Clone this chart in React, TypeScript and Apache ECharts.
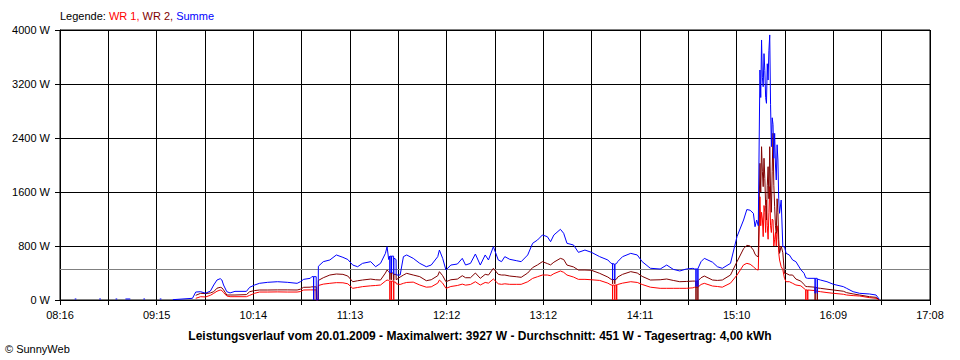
import React, { useEffect, useRef } from "react";
import * as echarts from "echarts";

// ---------- data ----------
// Each row: time, Summe, WR 2, WR 1  (W); null = no value
const times = [
  "08:25", "08:26", "08:30", "08:40", "08:41", "08:45", "08:50", "08:51", "08:53", "08:56",
  "08:59", "09:02", "09:07", "09:08", "09:12", "09:17", "09:18", "09:21",
  "09:25", "09:37", "09:39", "09:42", "09:45", "09:48", "09:50", "09:52", "09:54", "09:55",
  "09:56", "09:58", "10:00", "10:03", "10:10", "10:12", "10:15", "10:18", "10:23", "10:29",
  "10:35", "10:41", "10:43", "10:45", "10:49", "10:50", "10:51", "10:51:05", "10:51:10", "10:52:40",
  "10:52:45", "10:53:50", "10:54", "10:57", "11:01", "11:05", "11:09", "11:12", "11:15", "11:18",
  "11:21", "11:26", "11:29", "11:32", "11:35", "11:36", "11:37", "11:37:40", "11:37:45", "11:37:50",
  "11:38:40", "11:38:45", "11:38:50", "11:40:00", "11:40:05", "11:40:10", "11:41:30", "11:41:35", "11:44", "11:46",
  "11:48", "11:52", "11:56", "12:00", "12:03", "12:07", "12:08", "12:10", "12:12", "12:15",
  "12:19", "12:22", "12:24", "12:27", "12:30", "12:33", "12:36", "12:38", "12:41", "12:44",
  "12:46", "12:48", "12:51", "12:55", "12:58", "13:02", "13:05", "13:08", "13:11", "13:14",
  "13:16", "13:18", "13:22", "13:24", "13:26", "13:30", "13:33", "13:37", "13:41", "13:46",
  "13:51", "13:53", "13:53:50", "13:53:55", "13:54:00", "13:55:10", "13:55:15", "13:55:20", "13:56:20", "13:56:25",
  "13:56:30", "13:57", "14:00", "14:05", "14:09", "14:12", "14:17", "14:23", "14:27", "14:31",
  "14:35", "14:39", "14:43", "14:44", "14:44:50", "14:44:55", "14:45:00", "14:46:00", "14:46:05", "14:46:10",
  "14:48", "14:50", "14:55", "14:58", "15:01", "15:06", "15:10", "15:14", "15:16", "15:18",
  "15:20", "15:21", "15:22", "15:23", "15:24", "15:24:30", "15:25", "15:25:30", "15:26", "15:26:30",
  "15:27", "15:27:30", "15:28", "15:28:30", "15:29", "15:29:30", "15:30", "15:30:30", "15:31", "15:31:30",
  "15:32", "15:32:30", "15:33", "15:33:30", "15:34", "15:34:30", "15:35", "15:35:30", "15:36", "15:37",
  "15:38", "15:39", "15:40", "15:42", "15:44", "15:46", "15:49", "15:51", "15:52", "15:52:05",
  "15:52:10", "15:53:10", "15:53:15", "15:53:20", "15:57:40", "15:57:45", "15:57:50", "15:59:00", "15:59:05", "15:59:10",
  "16:01", "16:05", "16:09", "16:15", "16:17", "16:21", "16:25", "16:31", "16:35", "16:37",
];

// Summe (W)
const summe = [
  15, 15, null, 15, 15, null, 15, 15, null, 15,
  15, null, 15, 15, null, 15, 15, null,
  5, 25, 118, 123, 100, 133, 222, 296, 316, 296,
  222, 123, 105, 128, 128, 188, 222, 247, 262, 271,
  262, 247, 271, 306, 321, 346, 346, 0, 346, 346,
  0, 0, 500, 568, 593, 667, 632, 600, 518, 493,
  543, 568, 493, 543, 691, 790, 600, 650, 400, 650,
  650, 400, 650, 650, 380, 620, 600, 370, 370, 642,
  667, 617, 543, 493, 518, 642, 740, 617, 444, 518,
  533, 617, 518, 543, 681, 518, 667, 593, 790, 593,
  568, 642, 603, 583, 568, 667, 840, 889, 963, 938,
  864, 963, 1047, 988, 840, 815, 706, 740, 706, 642,
  593, 543, 540, 296, 540, 530, 296, 530, 540, 540,
  540, 568, 642, 691, 667, 568, 470, 459, 518, 454,
  430, 459, 469, 460, 460, 200, 460, 460, 200, 470,
  568, 617, 560, 493, 469, 543, 940, 1185, 1340, 1330,
  1284, 1086, 1185, 1100, 3407, 3000, 3852, 3300, 3160, 3650,
  3400, 3000, 2914, 3500, 3259, 3700, 3927, 2900, 2271, 2700,
  2600, 2100, 2469, 2000, 1778, 2300, 2074, 1500, 1284, 1481,
  790, 790, 691, 667, 593, 568, 450, 395, 330, 330,
  330, 321, 321, 321, 321, 99, 321, 321, 99, 310,
  296, 271, 232, 198, 173, 123, 99, 89, 74, 10,
];

// WR 2 (W)
const wr2 = [
  null, null, null, null, null, null, null, null, null, null,
  null, null, null, null, null, null, null, null,
  null, null, 69, 99, 95, 105, 123, 175, 188, 180,
  150, 74, 74, 74, 80, 123, 140, 148, 148, 150,
  150, 148, 160, 188, 190, 195, 195, 0, 195, 195,
  0, 0, 290, 330, 370, 385, 380, 355, 271, 285,
  296, 310, 300, 296, 400, 444, 420, 400, 300, 400,
  400, 300, 400, 400, 290, 380, 380, 300, 340, 370,
  395, 370, 346, 286, 300, 360, 420, 360, 271, 300,
  310, 360, 330, 330, 400, 321, 380, 370, 469, 380,
  370, 370, 355, 345, 336, 400, 480, 520, 568, 540,
  520, 560, 617, 600, 518, 490, 444, 444, 440, 395,
  340, 306, 306, 240, 306, 300, 240, 300, 310, 310,
  310, 340, 380, 420, 400, 350, 296, 300, 311, 290,
  271, 275, 280, 280, 280, 0, 280, 280, 0, 285,
  330, 355, 296, 290, 296, 370, 568, 760, 810, 800,
  740, 680, 650, 642, 2025, 1600, 2271, 1900, 1679, 2100,
  1800, 1400, 1185, 1700, 1975, 1500, 2271, 1600, 1300, 1900,
  2470, 1700, 1382, 1100, 988, 1500, 1300, 900, 691, 800,
  700, 395, 395, 370, 370, 310, 280, 230, 200, 200,
  200, 198, 198, 198, 190, 0, 190, 180, 0, 178,
  173, 160, 148, 130, 109, 90, 74, 49, 40, 0,
];

// WR 1 (W)
const wr1 = [
  null, null, null, null, null, null, null, null, null, null,
  null, null, null, null, null, null, null, null,
  null, null, 25, 49, 45, 70, 99, 130, 148, 140,
  110, 59, 49, 49, 49, 69, 100, 118, 118, 120,
  118, 118, 125, 148, 150, 150, 150, 0, 150, 150,
  0, 0, 215, 235, 247, 257, 255, 240, 173, 185,
  198, 210, 215, 222, 280, 296, 290, 280, 0, 280,
  280, 0, 280, 280, 0, 270, 260, 240, 230, 247,
  260, 265, 222, 190, 195, 250, 296, 250, 173, 200,
  215, 235, 220, 230, 271, 222, 260, 250, 311, 240,
  232, 240, 232, 232, 232, 270, 320, 345, 370, 370,
  360, 390, 430, 410, 370, 340, 306, 306, 300, 290,
  250, 222, 222, 0, 222, 220, 0, 220, 225, 0,
  225, 230, 250, 271, 260, 230, 190, 173, 173, 173,
  173, 173, 180, 188, 188, 188, 188, 188, 188, 190,
  230, 247, 207, 200, 190, 250, 370, 520, 543, 530,
  493, 470, 450, 444, 1530, 1100, 1300, 1200, 938, 1400,
  1300, 1000, 1481, 1100, 900, 1300, 1679, 1100, 1000, 1200,
  1185, 800, 900, 1000, 800, 1100, 1000, 700, 593, 493,
  450, 321, 271, 271, 247, 222, 210, 170, 150, 0,
  150, 148, 0, 148, 140, 140, 140, 130, 130, 128,
  123, 110, 99, 85, 74, 65, 59, 35, 25, 0,
];

const tickLabels = ["08:16", "09:15", "10:14", "11:13", "12:12", "13:12", "14:11", "15:10", "16:09", "17:08"];
const axisStart = "08:16";
const axisEnd = "17:08";
const gridSteps = 18;
const yMax = 4000;
const yStep = 800;
const average = 451;

const legendPrefix = "Legende: ";
const seriesNames = ["WR 1", "WR 2", "Summe"];
const seriesColors = ["#ff0000", "#800000", "#0000ff"];
const titleText =
  "Leistungsverlauf vom 20.01.2009 - Maximalwert: 3927 W - Durchschnitt: 451 W - Tagesertrag: 4,00 kWh";
const copyrightText = "© SunnyWeb";

// ---------- helpers ----------
const toMin = (t: string) => {
  const [h, m, s] = t.split(":").map(Number);
  return h * 60 + m + (s || 0) / 60;
};
const startMin = toMin(axisStart);
const stepMin = (toMin(axisEnd) - startMin) / gridSteps;
const toX = (t: string) => (toMin(t) - startMin) / stepMin;

const buildData = (values: (number | null)[]) => {
  const firstIdx = values.findIndex((v) => v !== null);
  return times
    .map((t, i) => [toX(t), values[i] === null ? "-" : values[i]] as [number, number | string])
    .slice(firstIdx);
};

const FONT = "'Liberation Sans', Arial, sans-serif";

export default function App() {
  const ref = useRef<HTMLDivElement>(null);

  useEffect(() => {
    if (!ref.current) return;
    const chart = echarts.init(ref.current, null, { renderer: "svg" });
    const valuesList = [wr1, wr2, summe];

    chart.setOption({
      animation: false,
      backgroundColor: "#ffffff",
      grid: {
        left: 60,
        right: 30,
        top: 30,
        bottom: 60,
        show: true,
        borderColor: "#000000",
        borderWidth: 1,
      },
      xAxis: {
        type: "value",
        min: 0,
        max: gridSteps,
        interval: 1,
        axisLine: { show: true, lineStyle: { color: "#000000", width: 1 } },
        axisTick: { show: true, length: 5, lineStyle: { color: "#000000" } },
        splitLine: { show: true, lineStyle: { color: "#000000", width: 1 } },
        axisLabel: {
          color: "#000000",
          fontFamily: FONT,
          fontSize: 11,
          margin: 9,
          formatter: (v: number) => {
            const i = Math.round(v);
            return i % 2 === 0 ? tickLabels[i / 2] ?? "" : "";
          },
        },
      },
      yAxis: {
        type: "value",
        min: 0,
        max: yMax,
        interval: yStep,
        axisLine: { show: true, lineStyle: { color: "#000000", width: 1 } },
        axisTick: { show: true, length: 5, lineStyle: { color: "#000000" } },
        splitLine: { show: true, lineStyle: { color: "#000000", width: 1 } },
        axisLabel: {
          color: "#000000",
          fontFamily: FONT,
          fontSize: 11,
          margin: 10,
          formatter: (v: number) => `${v} W`,
        },
      },
      series: valuesList.map((vals, idx) => ({
        name: seriesNames[idx],
        type: "line",
        data: buildData(vals),
        showSymbol: false,
        symbol: "none",
        connectNulls: false,
        lineStyle: { color: seriesColors[idx], width: 1 },
        itemStyle: { color: seriesColors[idx] },
        z: 3 + idx,
        markLine:
          idx === 0
            ? {
                silent: true,
                symbol: "none",
                label: { show: false },
                lineStyle: { color: "#808080", type: "solid", width: 1 },
                data: [{ yAxis: average }],
                z: 2,
              }
            : undefined,
      })),
      graphic: [
        {
          type: "text",
          left: 60,
          top: 10,
          style: {
            text:
              `{k|${legendPrefix}}{a|${seriesNames[0]}, }{b|${seriesNames[1]}, }{c|${seriesNames[2]}}`,
            rich: {
              k: { fill: "#000000", fontFamily: FONT, fontSize: 11 },
              a: { fill: seriesColors[0], fontFamily: FONT, fontSize: 11 },
              b: { fill: seriesColors[1], fontFamily: FONT, fontSize: 11 },
              c: { fill: seriesColors[2], fontFamily: FONT, fontSize: 11 },
            },
          },
        },
        {
          type: "text",
          x: 480,
          y: 336,
          style: {
            text: titleText,
            fill: "#000000",
            fontFamily: FONT,
            fontSize: 12,
            fontWeight: "bold",
            textAlign: "center",
            textVerticalAlign: "middle",
          },
        },
        {
          type: "text",
          x: 5,
          y: 349,
          style: {
            text: copyrightText,
            fill: "#000000",
            fontFamily: FONT,
            fontSize: 11,
            textAlign: "left",
            textVerticalAlign: "middle",
          },
        },
      ],
    });

    return () => chart.dispose();
  }, []);

  return (
    <div
      ref={ref}
      style={{ position: "fixed", left: 0, top: 0, width: 960, height: 360, background: "#ffffff" }}
    />
  );
}
